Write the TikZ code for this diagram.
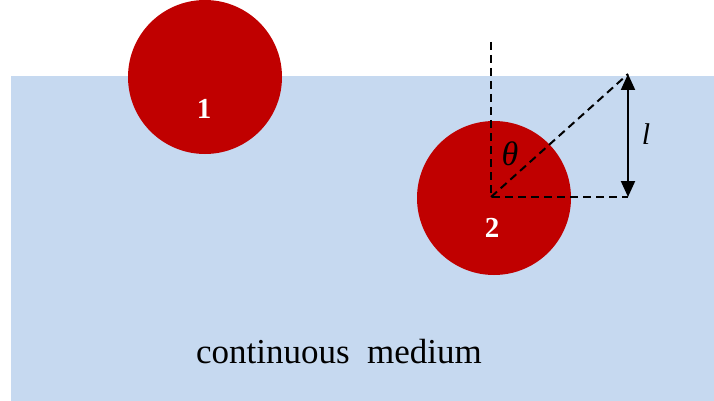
\documentclass[tikz,border=0pt]{standalone}
\usepackage{fontspec}
\setmainfont{Liberation Serif}
\usepackage{xcolor}
\usetikzlibrary{arrows.meta,positioning}

\definecolor{mediumblue}{RGB}{198,217,240}
\definecolor{dropred}{RGB}{192,0,0}

\begin{document}
\begin{tikzpicture}[
        x=1pt, y=-1pt,
        drop/.style={circle, fill=dropred, minimum size=154pt, inner sep=0pt},
        numlabel/.style={text=white, font=\fontsize{29}{29}\selectfont\bfseries},
        guide/.style={line width=2pt, dash pattern=on 8pt off 5pt},
        arrowstyle/.style={{Triangle[length=16pt,width=14pt]}-{Triangle[length=16pt,width=14pt]}, line width=2pt}
    ]
        \useasboundingbox (0,0) rectangle (714,401);
        \fill[mediumblue] (11,76) rectangle (714,401);

        \node[drop] (drop1) at (205,77) {};
        \node[drop] (drop2) at (494,198) {};
        \node[numlabel] (lab1) at (204,109) {1};
        \node[numlabel] (lab2) at (492,228) {2};

        % geometry of the tilt angle
        \coordinate (origin) at (491,197);
        \coordinate (top) at (491,42);
        \coordinate (corner) at (628,197);
        \coordinate (tip) at (628,74);
        \draw[guide] (top) -- (origin) -- (corner);
        \draw[guide] (origin) -- (tip);
        \draw[arrowstyle] (tip) -- (corner);

        \node[font=\fontsize{34}{34}\selectfont\itshape] (theta) at (510,154) {θ};
        \node[font=\fontsize{30}{30}\selectfont\itshape] (len) at (646,134) {l};
        \node[font=\fontsize{35}{35}\selectfont, anchor=base] (medium) at (339,363) {continuous\hspace{0.5em}medium};
    \end{tikzpicture}
\end{document}
